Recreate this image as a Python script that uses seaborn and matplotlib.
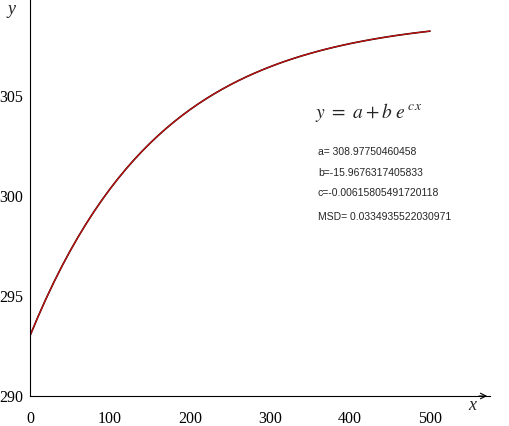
import numpy as np
import pandas as pd
import seaborn as sns
import matplotlib.pyplot as plt

# points
x_vals = list(range(0, 501, 10))
y_vals = [293.010, 293.963, 294.860, 295.703, 296.496, 297.242, 297.942,
          298.602, 299.221, 299.804, 300.352, 300.867, 301.351, 301.807,
          302.235, 302.638, 303.016, 303.372, 303.707, 304.022, 304.318,
          304.596, 304.858, 305.104, 305.335, 305.553, 305.757, 305.950,
          306.130, 306.300, 306.460, 306.611, 306.752, 306.885, 307.010,
          307.127, 307.238, 307.342, 307.440, 307.531, 307.618, 307.699,
          307.775, 307.847, 307.915, 307.978, 308.038, 308.094, 308.147,
          308.196, 308.243]
x_ticks = [0, 100, 200, 300, 400, 500]
y_ticks = [290, 295, 300, 305]
param_lines = ["a= 308.97750460458", "b=-15.9676317405833",
               "c=-0.00615805491720118"]
msd_line = "MSD= 0.0334935522030971"

df = pd.DataFrame({'x': x_vals, 'y': y_vals})

sns.set_style("white")
plt.rcParams['font.family'] = ['Liberation Serif', 'DejaVu Serif']

fig = plt.figure(figsize=(5.09, 4.26), dpi=100)
ax = fig.add_axes([30 / 509, 30 / 426, 460 / 509, 396 / 426])

sns.lineplot(data=df, x='x', y='y', color='#200000', linewidth=1.2, ax=ax)
sns.lineplot(data=df, x='x', y='y', color='#cc1010', linewidth=0.8, ax=ax)

ax.set_xlim(0, 575)
ax.set_ylim(290, 309.8)
ax.set_xticks(x_ticks)
ax.set_yticks(y_ticks)
ax.set_xlabel('')
ax.set_ylabel('')
ax.tick_params(axis='both', direction='out', length=4, width=0.8,
               colors='black', labelsize=11.5)
ax.tick_params(axis='x', pad=7)
ax.tick_params(axis='y', pad=1)
for s in ['top', 'right']:
    ax.spines[s].set_visible(False)
for s in ['left', 'bottom']:
    ax.spines[s].set_color('black')
    ax.spines[s].set_linewidth(0.8)

# arrow at end of x axis
ax.annotate('', xy=(1.0, 0), xycoords='axes fraction',
            xytext=(0.97, 0), textcoords='axes fraction',
            arrowprops=dict(arrowstyle='->', color='black', lw=0.8),
            annotation_clip=False)

fig.text(472 / 509, 1 - 406 / 426, 'x', style='italic', fontsize=13,
         ha='center', va='center')
fig.text(12 / 509, 1 - 9 / 426, 'y', style='italic', fontsize=13,
         ha='center', va='center')

ax.text(315 / 509, 1 - 113 / 426, r'$y\ =\ a + b\ e^{\,c\,x}$',
        transform=fig.transFigure, fontsize=14, ha='left', va='center',
        math_fontfamily='stix')

for i, line in enumerate(param_lines):
    fig.text(318 / 509, 1 - (152 + i * 20.5) / 426, line,
             family=['Liberation Sans', 'DejaVu Sans'], fontsize=7.5,
             ha='left', va='center')
fig.text(318 / 509, 1 - 217 / 426, msd_line,
         family=['Liberation Sans', 'DejaVu Sans'], fontsize=7.5,
         ha='left', va='center')

plt.savefig('out.png', dpi=100)
